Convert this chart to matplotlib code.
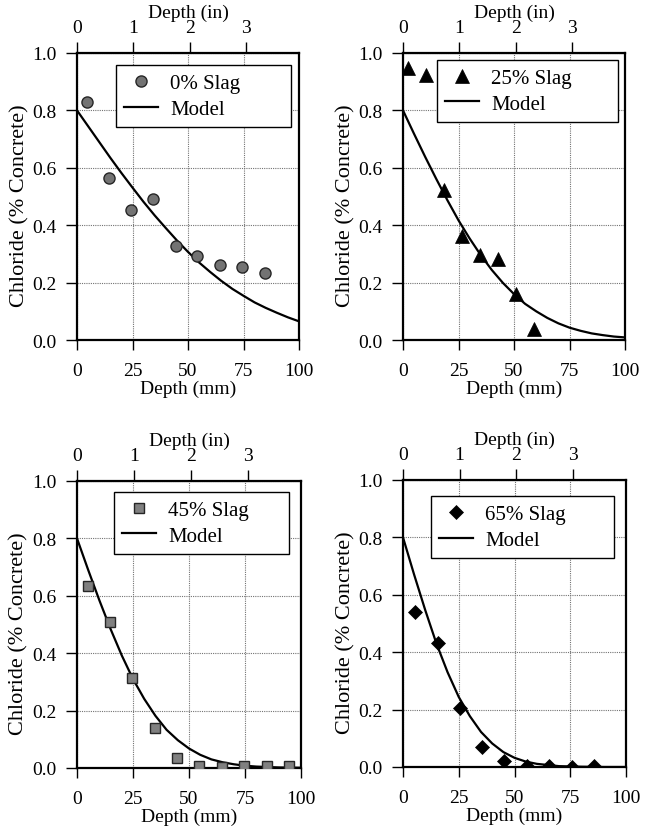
import matplotlib
matplotlib.use("Agg")
import matplotlib.pyplot as plt

plt.rcParams['font.family'] = ['Liberation Serif', 'DejaVu Serif']

# ---------------- data ----------------
labels = ["0% Slag", "25% Slag", "45% Slag", "65% Slag"]

# measured points (depth mm, chloride % concrete)
x0 = [4.5, 14.5, 24.5, 34.3, 44.4, 54.2, 64.4, 74.3, 84.6]
y0 = [0.831, 0.564, 0.452, 0.491, 0.329, 0.292, 0.263, 0.255, 0.233]

x25 = [2.1, 10.5, 18.4, 26.8, 34.6, 42.9, 50.8, 58.8]
y25 = [0.948, 0.924, 0.523, 0.362, 0.297, 0.283, 0.160, 0.038]

x45 = [5.0, 14.7, 24.7, 34.8, 44.7, 54.6, 64.7, 74.7, 84.7, 94.7]
y45 = [0.635, 0.508, 0.312, 0.140, 0.034, 0.008, 0.003, 0.008, 0.008, 0.008]

x65 = [5.4, 15.6, 25.7, 35.6, 45.4, 55.5, 65.4, 75.6, 85.6]
y65 = [0.539, 0.433, 0.205, 0.070, 0.020, 0.003, 0.002, 0.000, 0.003]

# model curves
mx0 = [0, 5, 10, 15, 20, 25, 30, 35, 40, 45, 50, 55, 60, 65, 70, 75, 80, 85, 90, 95, 100]
my0 = [0.800, 0.745, 0.690, 0.635, 0.582, 0.531, 0.481, 0.434, 0.390, 0.347, 0.307,
       0.270, 0.237, 0.206, 0.178, 0.154, 0.131, 0.112, 0.095, 0.079, 0.065]

mx25 = [0, 5, 10, 15, 20, 25, 30, 35, 40, 45, 50, 55, 60, 65, 70, 75, 80, 85, 90, 95, 100]
my25 = [0.800, 0.718, 0.638, 0.561, 0.487, 0.417, 0.354, 0.296, 0.244, 0.199, 0.160,
        0.126, 0.100, 0.077, 0.058, 0.043, 0.032, 0.023, 0.017, 0.012, 0.009]

mx45 = [0, 5, 10, 15, 20, 25, 30, 35, 40, 45, 50, 55, 60, 65, 70, 75, 80, 90, 100]
my45 = [0.800, 0.690, 0.584, 0.484, 0.392, 0.310, 0.241, 0.182, 0.133, 0.097, 0.068,
        0.046, 0.030, 0.020, 0.013, 0.008, 0.005, 0.002, 0.001]

mx65 = [0, 5, 10, 15, 20, 25, 30, 35, 40, 45, 50, 55, 60, 70, 80, 90, 100]
my65 = [0.800, 0.670, 0.546, 0.430, 0.330, 0.244, 0.177, 0.122, 0.082, 0.052, 0.032,
        0.019, 0.011, 0.003, 0.001, 0.000, 0.000]

x_ticks = [0, 25, 50, 75, 100]
y_ticks = [0.0, 0.2, 0.4, 0.6, 0.8, 1.0]
in_ticks = [0, 1, 2, 3]

# ---------------- figure ----------------
W, H = 651, 837
fig = plt.figure(figsize=(W / 100, H / 100), dpi=100)

def px_axes(l, r, t, b):
    return [l / W, 1 - b / H, (r - l) / W, (b - t) / H]

panels = [
    dict(rect=px_axes(77, 299, 54, 341), x=x0, y=y0, mx=mx0, my=my0, lab=labels[0],
         mk=dict(marker='o', ms=8, mfc='0.45', mec='0.15', mew=1.0),
         leg=(0.176, 0.70, 0.79, 0.258)),
    dict(rect=px_axes(403, 625, 54, 341), x=x25, y=y25, mx=mx25, my=my25, lab=labels[1],
         mk=dict(marker='^', ms=10, mfc='black', mec='black', mew=0.5),
         leg=(0.153, 0.72, 0.815, 0.256)),
    dict(rect=px_axes(77, 301, 482, 769), x=x45, y=y45, mx=mx45, my=my45, lab=labels[2],
         mk=dict(marker='s', ms=6.5, mfc='0.5', mec='0.15', mew=1.0),
         leg=(0.165, 0.70, 0.781, 0.262)),
    dict(rect=px_axes(403, 626, 481, 768), x=x65, y=y65, mx=mx65, my=my65, lab=labels[3],
         mk=dict(marker='D', ms=7, mfc='black', mec='black', mew=0.5),
         leg=(0.126, 0.69, 0.82, 0.254)),
]

TICK_FS = 14
LAB_FS = 14

for p in panels:
    ax = fig.add_axes(p['rect'])
    ax.set_xlim(0, 100)
    ax.set_ylim(0, 1.0)
    ax.plot(p['x'], p['y'], linestyle='none', label=p['lab'], zorder=4, **p['mk'])
    ax.plot(p['mx'], p['my'], color='black', lw=1.6, label='Model', zorder=3)

    ax.set_xticks(x_ticks)
    ax.set_yticks(y_ticks)
    ax.set_yticklabels([f"{v:.1f}" for v in y_ticks])
    ax.tick_params(axis='x', direction='out', length=7, width=1, pad=9, labelsize=TICK_FS)
    ax.tick_params(axis='y', direction='out', length=8, width=1, pad=7, labelsize=TICK_FS)
    for s in ax.spines.values():
        s.set_linewidth(1.6)
    ax.grid(True, color='0.45', linestyle=(0, (1, 1)), linewidth=0.8)
    ax.set_axisbelow(True)

    ax.set_xlabel("Depth (mm)", fontsize=LAB_FS, labelpad=0)
    ax.set_ylabel("Chloride (% Concrete)", fontsize=16)
    ax.yaxis.set_label_coords(-0.215, 0.47)

    sec = ax.secondary_xaxis('top', functions=(lambda v: v / 25.4, lambda v: v * 25.4))
    sec.set_xticks(in_ticks)
    sec.tick_params(direction='out', length=8, width=1, pad=4, labelsize=TICK_FS)
    sec.set_xlabel("Depth (in)", fontsize=LAB_FS, labelpad=2)

    leg = ax.legend(loc='upper left', bbox_to_anchor=p['leg'], mode='expand',
                    fontsize=15, frameon=True, fancybox=False, edgecolor='black',
                    framealpha=1, borderpad=0.4, labelspacing=0.3,
                    handlelength=1.6, handletextpad=0.6, borderaxespad=0)
    leg.get_frame().set_linewidth(1.0)

fig.savefig("out.png", dpi=100)
